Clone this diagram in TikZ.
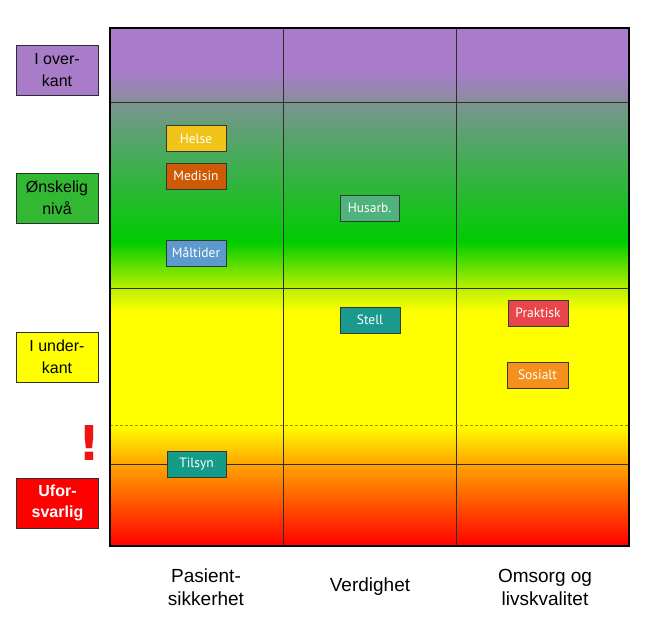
\documentclass[tikz,border=0pt]{standalone}
\usepackage{fontspec}
\setmainfont{Liberation Sans}
\newfontfamily\boxfont{PT Sans}
\newfontfamily\bangfont{DejaVu Sans}
\definecolor{cpurple}{HTML}{A97CC9}
\definecolor{cgray}{HTML}{8A8C9C}
\definecolor{cgraygreen}{HTML}{7C9490}
\definecolor{cmidgreen}{HTML}{4CA860}
\definecolor{cgreen}{HTML}{00CC00}
\definecolor{cyelgreen}{HTML}{B8F000}
\definecolor{cyellow}{HTML}{FFFF00}
\definecolor{corange}{HTML}{FFA500}
\definecolor{cred}{HTML}{FF0000}
\definecolor{cline}{HTML}{2E2E2E}
\definecolor{cboxline}{HTML}{2E3B2E}
\definecolor{chelse}{HTML}{F0C419}
\definecolor{cmedisin}{HTML}{CF5A05}
\definecolor{cmaltider}{HTML}{5C9ACD}
\definecolor{chusarb}{HTML}{50B27C}
\definecolor{cstell}{HTML}{1A9A8E}
\definecolor{cpraktisk}{HTML}{E8464A}
\definecolor{csosialt}{HTML}{F5901E}
\definecolor{ctilsyn}{HTML}{149C88}
\definecolor{cleftgreen}{HTML}{33B833}
\definecolor{cbang}{HTML}{EE1414}
\definecolor{cdash}{HTML}{C07A00}
\tikzset{
  item/.style={draw=cboxline, line width=0.8pt, minimum width=60pt, minimum height=26pt,
    inner sep=0pt, text=white, font=\boxfont\fontsize{13.5}{15}\selectfont},
  level/.style={draw=cline, line width=0.8pt, minimum width=82pt, minimum height=50pt,
    inner sep=0pt, align=center, font=\fontsize{16}{21.5}\selectfont},
  axislabel/.style={align=center, font=\fontsize{19}{22.5}\selectfont},
  gridline/.style={draw=cline, line width=0.8pt},
}
\begin{document}
\begin{tikzpicture}[x=1pt,y=-1pt]
\useasboundingbox (0,0) rectangle (653,623);
% background gradient bands
\fill[cpurple] (110,28) rectangle (629,72);
\shade[top color=cpurple, bottom color=cgray] (110,71.5) rectangle (629,102);
\shade[top color=cgraygreen, bottom color=cmidgreen] (110,101.5) rectangle (629,150);
\shade[top color=cmidgreen, bottom color=cgreen] (110,149.5) rectangle (629,242);
\shade[top color=cgreen, bottom color=cyelgreen] (110,241.5) rectangle (629,288);
\shade[top color=cyelgreen, bottom color=cyellow] (110,287.5) rectangle (629,312);
\fill[cyellow] (110,311.5) rectangle (629,425.5);
\shade[top color=cyellow, bottom color=corange] (110,425) rectangle (629,464);
\shade[top color=corange, bottom color=cred] (110,463.5) rectangle (629,546);
% grid
\coordinate (tl) at (110,28);
\coordinate (br) at (629,546);
\draw[gridline] (283,28) -- (283,546);
\draw[gridline] (456,28) -- (456,546);
\draw[gridline] (110,102) -- (629,102);
\draw[gridline] (110,288) -- (629,288);
\draw[gridline] (110,464) -- (629,464);
\draw[cdash, line width=0.7pt, dash pattern=on 3pt off 2pt] (110,425) -- (629,425);
\draw[black, line width=1.4pt] (tl) rectangle (br);
% left level labels
\node[level, fill=cpurple] (over) at (57,70) {I over-\\kant};
\node[level, fill=cleftgreen] (onsk) at (57,198) {Ønskelig\\nivå};
\node[level, fill=cyellow] (under) at (57,357) {I under-\\kant};
\node[level, fill=cred, text=white, font=\bfseries\fontsize{16}{21.5}\selectfont] (ufor) at (57.5,503) {Ufor-\\svarlig};
\node[text=cbang, font=\bangfont\bfseries\fontsize{48}{48}\selectfont, inner sep=0pt] (bang) at (89,443) {!};
% items
\node[item, fill=chelse] (helse) at (196,138.5) {Helse};
\node[item, fill=cmedisin] (medisin) at (196,176) {Medisin};
\node[item, fill=cmaltider] (maltider) at (196,253) {Måltider};
\node[item, fill=chusarb, minimum width=59pt] (husarb) at (369.5,208) {Husarb.};
\node[item, fill=cstell] (stell) at (370,320) {Stell};
\node[item, fill=cpraktisk] (praktisk) at (538,313) {Praktisk};
\node[item, fill=csosialt, minimum width=61pt] (sosialt) at (537.5,375) {Sosialt};
\node[item, fill=ctilsyn, minimum width=59pt] (tilsyn) at (196.5,464) {Tilsyn};
% axis labels
\node[axislabel] (pasient) at (206,587) {Pasient-\\sikkerhet};
\node[axislabel] (verdighet) at (370,587) {Verdighet};
\node[axislabel] (omsorg) at (545,587.5) {Omsorg og\\livskvalitet};
\end{tikzpicture}
\end{document}
